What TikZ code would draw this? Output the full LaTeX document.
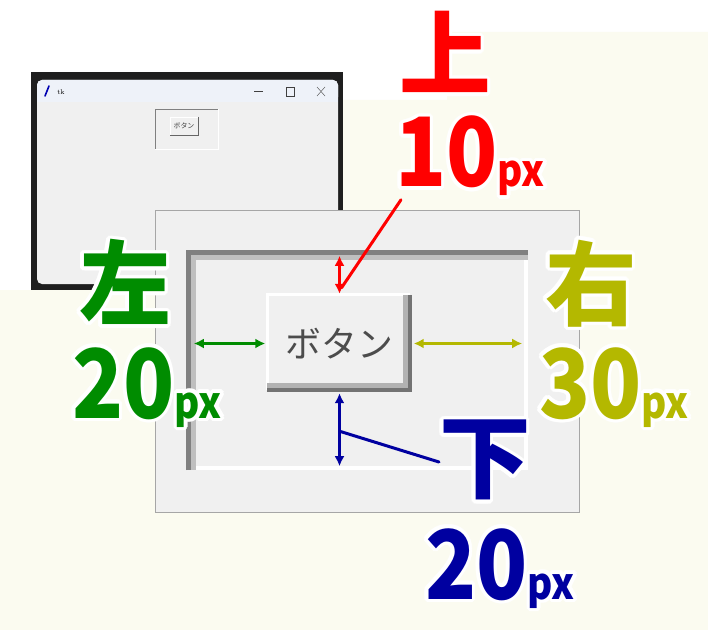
\documentclass[tikz,border=0pt]{standalone}
\usepackage{fontspec}
\usepackage[copies]{contour}
\usetikzlibrary{arrows.meta,calc}

\newfontfamily\jpfont{Noto Sans CJK JP}
\definecolor{cream}{RGB}{251,251,240}
\definecolor{winbg}{RGB}{240,240,240}
\definecolor{titlebg}{RGB}{238,242,249}
\definecolor{winframe}{RGB}{30,30,30}
\definecolor{upred}{RGB}{255,0,0}
\definecolor{leftgreen}{RGB}{0,140,0}
\definecolor{rightolive}{RGB}{180,184,0}
\definecolor{downblue}{RGB}{0,0,160}
\contourlength{3.5pt}
\newcommand\pxnum[1]{\scalebox{0.88}[1]{\fontsize{96}{96}\selectfont #1\fontsize{44}{44}\selectfont px}}

\begin{document}
\begin{tikzpicture}[x=1bp, y=-1bp,
  kanji/.style={inner sep=0pt, font=\jpfont\bfseries\fontsize{92}{92}\selectfont},
  num/.style={inner sep=0pt, anchor=base west, font=\jpfont\bfseries},
  dim/.style={{Latex[length=10bp,width=10bp]}-{Latex[length=10bp,width=10bp]}, line width=2.8bp},
  lead/.style={line width=3bp, line cap=round}]

    \useasboundingbox (0,0) rectangle (708,630);
    \fill[white] (0,0) rectangle (708,630);
    \fill[cream] (447,32) -- (708,32) -- (708,630) -- (0,630) -- (0,290)
        -- (343,290) -- (343,100) -- (447,100) -- cycle;

    % Small tk window
    \fill[winframe] (31,72) rectangle (343,290);
    \fill[winbg, rounded corners=5bp] (37,80) rectangle (338,284);
    \fill[titlebg, rounded corners=5bp] (37,80) rectangle (338,102);
    \fill[titlebg] (37,95) rectangle (338,102);
    \draw[blue!70!black, line width=1.6bp, line cap=round] (45,96) -- (49,86);
    \node[inner sep=0pt, font=\fontsize{7}{7}\selectfont] (tkTitle) at (61,92) {tk};
    \draw[black!75] (254,91) -- (263,91);
    \draw[black!75] (286,87) rectangle (294,96);
    \draw[black!75] (317,87) -- (325,96) (317,96) -- (325,87);

    \node[fill=winbg, minimum width=63bp, minimum height=40bp, inner sep=0pt] (smallFrame) at (186.5,129) {};
    \draw[white] (smallFrame.north east) |- (smallFrame.south west);
    \draw[black!50] (smallFrame.south west) |- (smallFrame.north east);
    \node[fill=winbg, minimum width=28bp, minimum height=18bp, inner sep=0pt,
          font=\jpfont\fontsize{7}{7}\selectfont, text=black!75] (smallBtn) at (184,126) {ボタン};
    \draw[white] (smallBtn.south west) |- (smallBtn.north east);
    \draw[black!60, line width=1bp] (smallBtn.north east) |- (smallBtn.south west);

    % Zoomed window
    \draw[black!35, fill=winbg] (155,210) rectangle (579,512);
    \node[fill=winbg, minimum width=342bp, minimum height=220bp, inner sep=0pt] (frame) at (357,360) {};
    \draw[white, line width=4bp] ([yshift=2bp]frame.south west) -| ([xshift=-2bp]frame.north east);
    \draw[black!25, line width=10bp] ([xshift=5bp]frame.south west) |- ([yshift=-5bp]frame.north east);
    \draw[black!50, line width=5bp] ([xshift=3bp]frame.south west) |- ([yshift=-3bp]frame.north east);

    \node[fill=winbg, minimum width=144bp, minimum height=97bp, inner sep=0pt,
          font=\jpfont\fontsize{36}{36}\selectfont, text=black!70] (btn) at (339.5,343.5) {ボタン};
    \draw[white, line width=3bp] ([yshift=2bp]btn.south west) |- ([xshift=-2bp]btn.north east);
    \draw[black!30, line width=8bp] ([xshift=-5bp]btn.north east) |- ([yshift=5bp]btn.south west);
    \draw[black!55, line width=4bp] ([xshift=-2bp]btn.north east) |- ([yshift=2bp]btn.south west);

    % Arrows
    \draw[dim, upred, shorten <=6bp, shorten >=1bp] (frame.north -| btn.north) -- (btn.north);
    \draw[dim, leftgreen, shorten <=8bp, shorten >=2bp] (frame.west |- btn.west) -- (btn.west);
    \draw[dim, rightolive, shorten <=2bp, shorten >=6bp] (btn.east) -- (frame.east |- btn.east);
    \draw[dim, downblue, shorten <=1bp, shorten >=4bp] (btn.south) -- (frame.south -| btn.south);

    % Labels
    \node[kanji, text=upred] (upKanji) at (445,54) {\contour{white}{上}};
    \node[num, text=upred] (upNum) at (395,187) {\contour{white}{\pxnum{10}}};
    \node[kanji, text=leftgreen] (leftKanji) at (125,284) {\contour{white}{左}};
    \node[num, text=leftgreen] (leftNum) at (72,418) {\contour{white}{\pxnum{20}}};
    \node[kanji, text=rightolive] (rightKanji) at (591,285) {\contour{white}{右}};
    \node[num, text=rightolive] (rightNum) at (539,418) {\contour{white}{\pxnum{30}}};
    \node[kanji, text=downblue] (downKanji) at (485,462) {\contour{white}{下}};
    \node[num, text=downblue] (downNum) at (425,599) {\contour{white}{\pxnum{20}}};

    \draw[lead, upred] ([xshift=6bp]upNum.south west) -- ($(btn.north)+(2,-7)$);
    \draw[lead, downblue] (downKanji.west) -- ($(btn.south)!0.5!(frame.south -| btn.south)$);

  \end{tikzpicture}
\end{document}
